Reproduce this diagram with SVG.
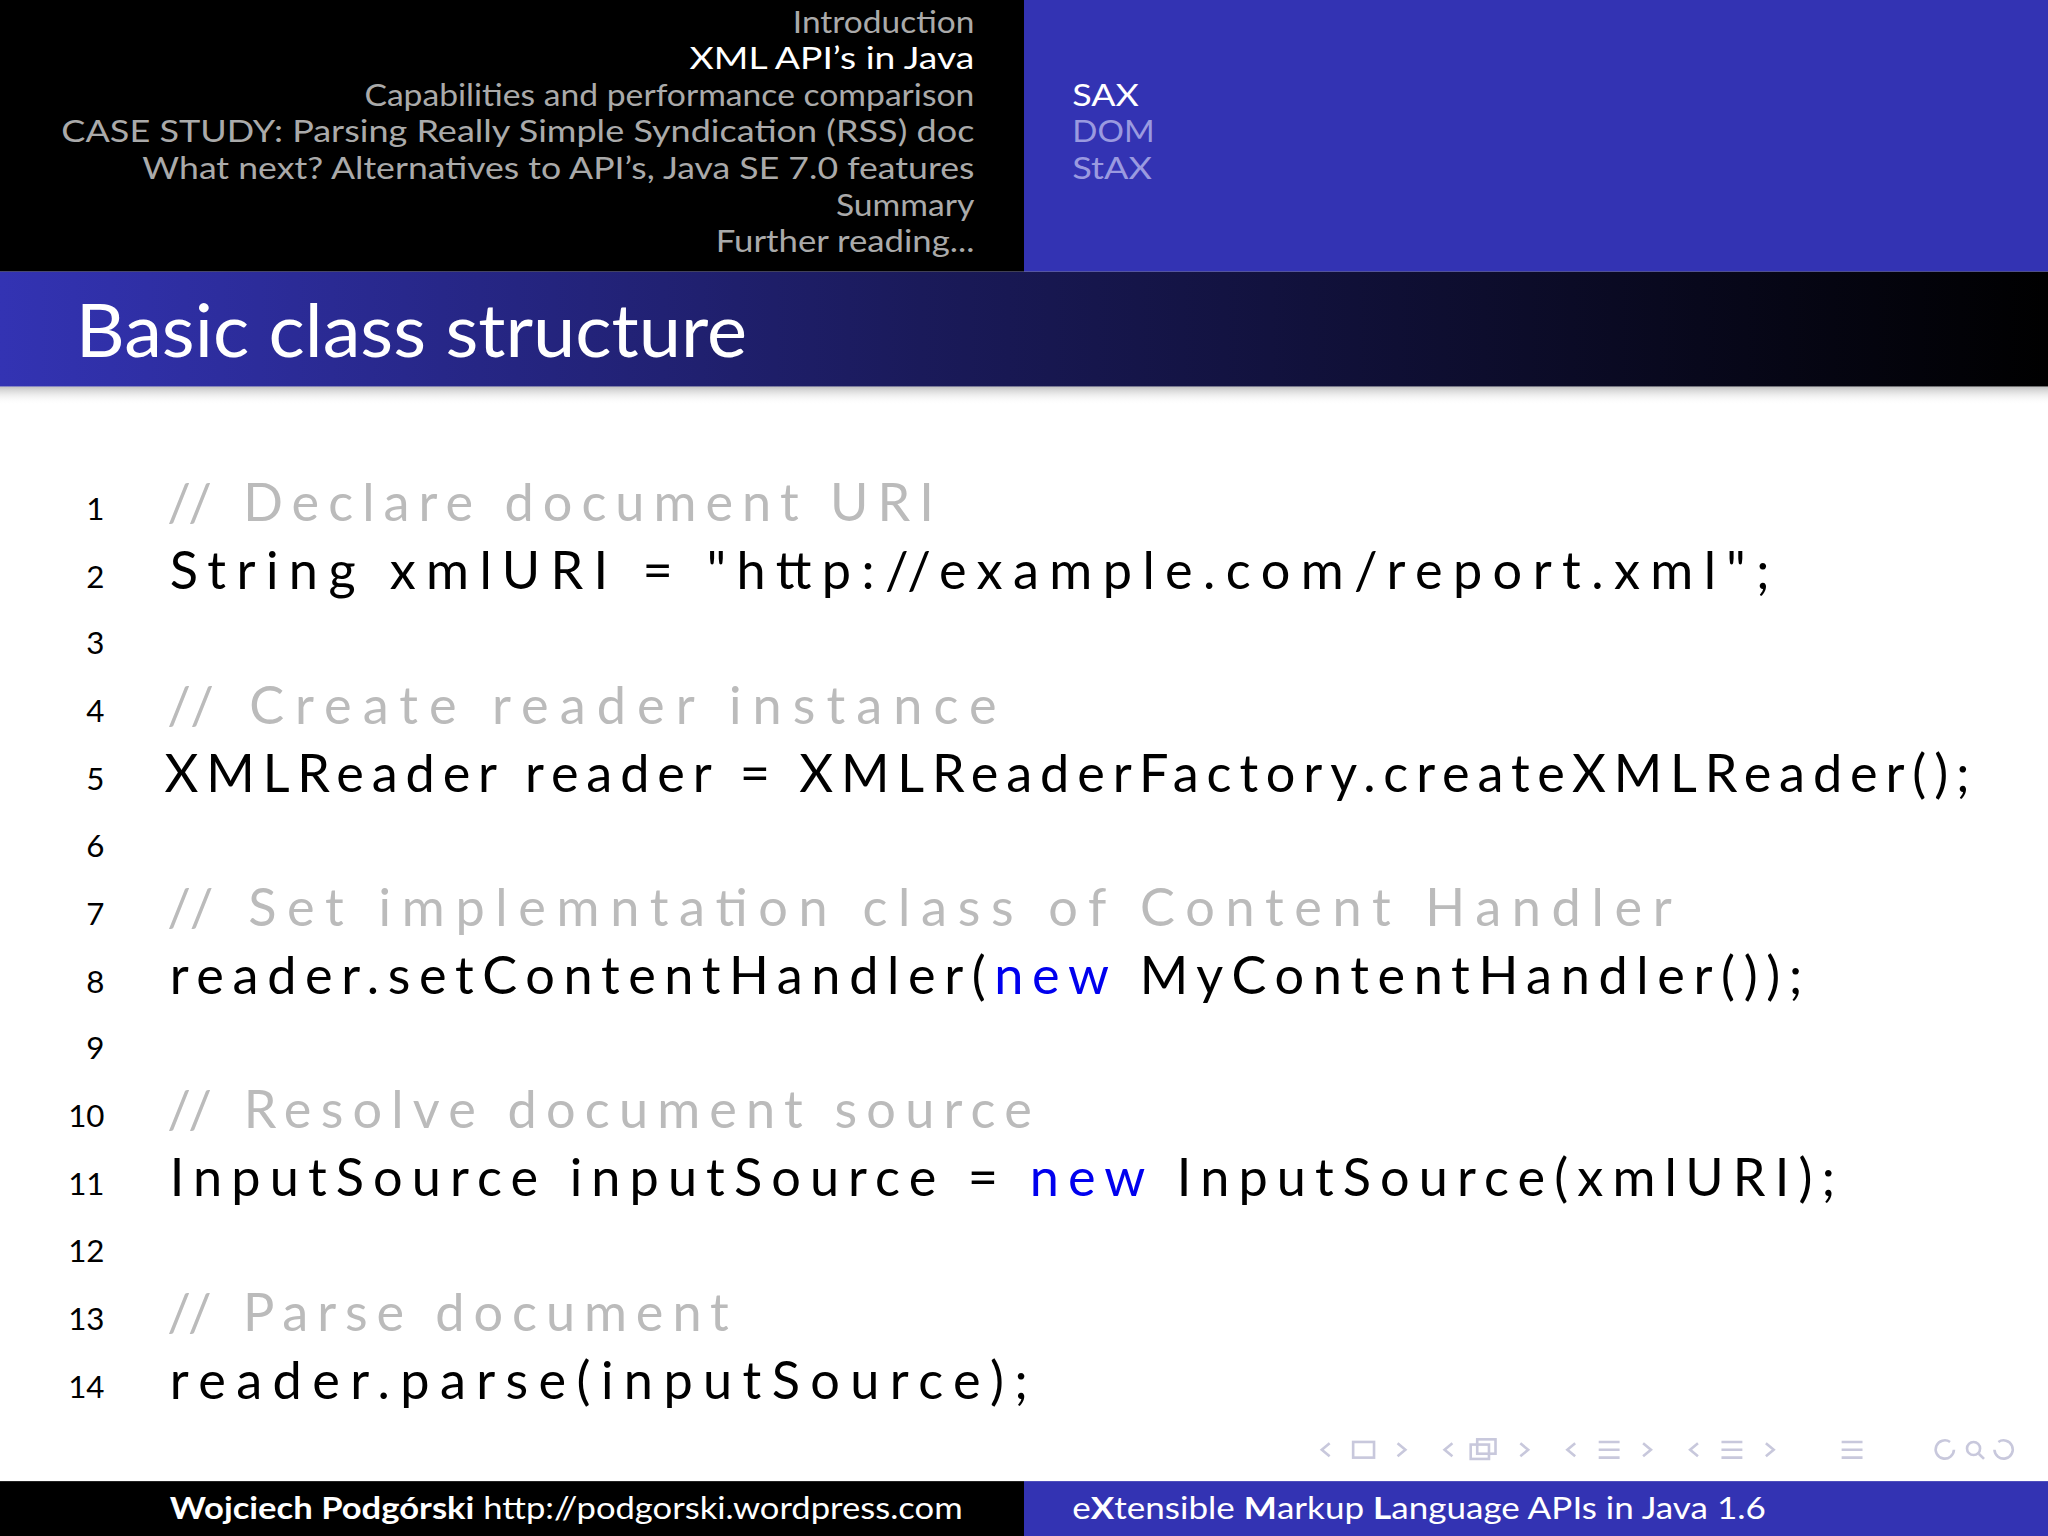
<svg xmlns="http://www.w3.org/2000/svg" width="2048" height="1536" viewBox="0 0 2048 1536">
<defs>
<linearGradient id="tg" x1="0" x2="1" y1="0" y2="0"><stop offset="0" stop-color="#3333b3"/><stop offset="0.45" stop-color="#1a1a5a"/><stop offset="1" stop-color="#000"/></linearGradient>
<linearGradient id="sh" x1="0" x2="0" y1="0" y2="1"><stop offset="0" stop-color="#999" stop-opacity="0.6"/><stop offset="1" stop-color="#fff" stop-opacity="0"/></linearGradient>
</defs>
<style>
.nav{font-family:"Lato","DejaVu Sans",sans-serif;font-size:24px;fill:#aaaaaa;text-anchor:end}
.sub{font-family:"Lato","DejaVu Sans",sans-serif;font-size:24px;fill:#9a9ae0}
.code{font-family:"Lato","DejaVu Sans",sans-serif;font-size:40px;fill:#000}
.cm{fill:#bbbbbb}
.kw{fill:#0000ee}
.ln{font-family:"Lato","DejaVu Sans",sans-serif;font-size:24px;fill:#000;text-anchor:end}
.ft{font-family:"Lato","DejaVu Sans",sans-serif;font-size:24px;fill:#fff}
.ic{fill:none;stroke:#c8c8dc;stroke-width:2}
</style>
<g transform="scale(1.30612)">
<rect x="0" y="0" width="784" height="208" fill="#000"/>
<rect x="784" y="0" width="784" height="208" fill="#3333b3"/>
<g id="nav">
<text class="nav" x="746" y="25" textLength="139" lengthAdjust="spacingAndGlyphs">Introduction</text>
<text class="nav" x="746" y="53" style="fill:#fff" textLength="218" lengthAdjust="spacingAndGlyphs">XML API’s in Java</text>
<text class="nav" x="746" y="81" textLength="467" lengthAdjust="spacingAndGlyphs">Capabilities and performance comparison</text>
<text class="nav" x="746" y="109" textLength="699" lengthAdjust="spacingAndGlyphs">CASE STUDY: Parsing Really Simple Syndication (RSS) doc</text>
<text class="nav" x="746" y="137" textLength="637" lengthAdjust="spacingAndGlyphs">What next? Alternatives to API’s, Java SE 7.0 features</text>
<text class="nav" x="746" y="165" textLength="106" lengthAdjust="spacingAndGlyphs">Summary</text>
<text class="nav" x="746" y="193" textLength="198" lengthAdjust="spacingAndGlyphs">Further reading...</text>
<text class="sub" x="821" y="81" style="fill:#fff" textLength="51" lengthAdjust="spacingAndGlyphs">SAX</text>
<text class="sub" x="821" y="109" textLength="63" lengthAdjust="spacingAndGlyphs">DOM</text>
<text class="sub" x="821" y="137" textLength="61" lengthAdjust="spacingAndGlyphs">StAX</text>
</g>
<rect x="0" y="208" width="1568" height="88" fill="url(#tg)"/>
<rect x="0" y="296" width="1568" height="14" fill="url(#sh)"/>
<text x="58" y="273" textLength="514" lengthAdjust="spacingAndGlyphs" style="font-family:'Lato','DejaVu Sans',sans-serif;font-size:56px;fill:#fff">Basic class structure</text>
<g id="code">
<text class="ln" x="80" y="398">1</text>
<text class="ln" x="80" y="450">2</text>
<text class="ln" x="80" y="501">3</text>
<text class="ln" x="80" y="553">4</text>
<text class="ln" x="80" y="605">5</text>
<text class="ln" x="80" y="656">6</text>
<text class="ln" x="80" y="708">7</text>
<text class="ln" x="80" y="760">8</text>
<text class="ln" x="80" y="811">9</text>
<text class="ln" x="80" y="863">10</text>
<text class="ln" x="80" y="915">11</text>
<text class="ln" x="80" y="966">12</text>
<text class="ln" x="80" y="1018">13</text>
<text class="ln" x="80" y="1070">14</text>
<text class="code cm" x="128" y="399" textLength="587" lengthAdjust="spacing">// Declare document URI</text>
<text class="code" x="130" y="451" textLength="1225" lengthAdjust="spacing">String xmlURI = "http://example.com/report.xml";</text>
<text class="code cm" x="128" y="554" textLength="635" lengthAdjust="spacing">// Create reader instance</text>
<text class="code" x="126" y="606" textLength="1382" lengthAdjust="spacing">XMLReader reader = XMLReaderFactory.createXMLReader();</text>
<text class="code cm" x="128" y="709" textLength="1152" lengthAdjust="spacing">// Set implemntation class of Content Handler</text>
<text class="code" x="130" y="761" textLength="1250" lengthAdjust="spacing">reader.setContentHandler(<tspan class="kw">new</tspan> MyContentHandler());</text>
<text class="code cm" x="128" y="864" textLength="662" lengthAdjust="spacing">// Resolve document source</text>
<text class="code" x="130" y="916" textLength="1275" lengthAdjust="spacing">InputSource inputSource = <tspan class="kw">new</tspan> InputSource(xmlURI);</text>
<text class="code cm" x="128" y="1019" textLength="430" lengthAdjust="spacing">// Parse document</text>
<text class="code" x="130" y="1071" textLength="657" lengthAdjust="spacing">reader.parse(inputSource);</text>
</g>
<g id="navicons" class="ic">
<path d="M1018 1105 l-6 5 l6 5"/><rect x="1036" y="1104" width="16" height="12"/><path d="M1070 1105 l6 5 l-6 5"/>
<path d="M1112 1105 l-6 5 l6 5"/><rect x="1126" y="1106" width="14" height="11"/><rect x="1131" y="1102" width="14" height="11"/><path d="M1164 1105 l6 5 l-6 5"/>
<path d="M1206 1105 l-6 5 l6 5"/><path d="M1224 1104 h16 M1224 1110 h16 M1224 1116 h16"/><path d="M1258 1105 l6 5 l-6 5"/>
<path d="M1300 1105 l-6 5 l6 5"/><path d="M1318 1104 h16 M1318 1110 h16 M1318 1116 h16"/><path d="M1352 1105 l6 5 l-6 5"/>
<path d="M1410 1104 h16 M1410 1110 h16 M1410 1116 h16"/>
<path d="M1493 1104 a7 7 0 1 0 3 6"/><circle cx="1511" cy="1109" r="5"/><path d="M1515 1113 l4 4"/><path d="M1530 1104 a7 7 0 1 1 -3 6"/>
</g>
<rect x="0" y="1134" width="784" height="42" fill="#000"/>
<rect x="784" y="1134" width="784" height="42" fill="#3333b3"/>
<text class="ft" x="130" y="1163" textLength="607" lengthAdjust="spacingAndGlyphs"><tspan font-weight="bold">Wojciech Podgórski</tspan> http://podgorski.wordpress.com</text>
<text class="ft" x="821" y="1163" textLength="531" lengthAdjust="spacingAndGlyphs">e<tspan font-weight="bold">X</tspan>tensible <tspan font-weight="bold">M</tspan>arkup <tspan font-weight="bold">L</tspan>anguage APIs in Java 1.6</text>
</g>
</svg>
